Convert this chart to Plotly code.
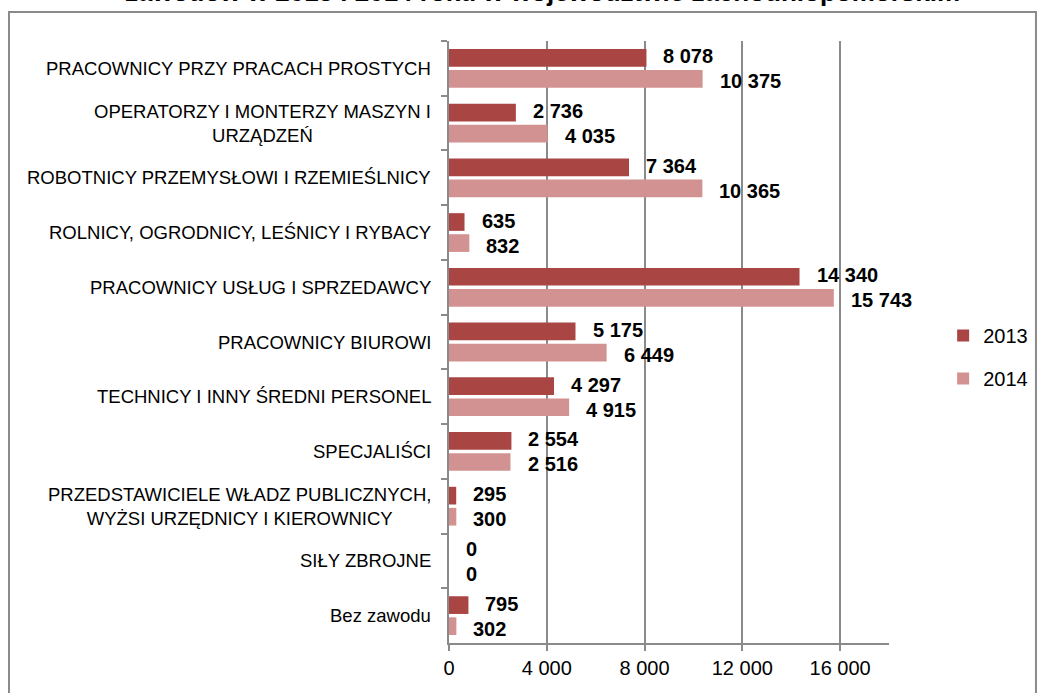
import plotly.graph_objects as go

categories = [
    "PRACOWNICY PRZY PRACACH PROSTYCH",
    "OPERATORZY I MONTERZY MASZYN I<br>URZĄDZEŃ",
    "ROBOTNICY PRZEMYSŁOWI I RZEMIEŚLNICY",
    "ROLNICY, OGRODNICY, LEŚNICY I RYBACY",
    "PRACOWNICY USŁUG I SPRZEDAWCY",
    "PRACOWNICY BIUROWI",
    "TECHNICY I INNY ŚREDNI PERSONEL",
    "SPECJALIŚCI",
    "PRZEDSTAWICIELE WŁADZ PUBLICZNYCH,<br>WYŻSI URZĘDNICY I KIEROWNICY",
    "SIŁY ZBROJNE",
    "Bez zawodu",
]
v2013 = [8078, 2736, 7364, 635, 14340, 5175, 4297, 2554, 295, 0, 795]
v2014 = [10375, 4035, 10365, 832, 15743, 6449, 4915, 2516, 300, 0, 302]
series_names = ["2013", "2014"]
tick_vals = [0, 4000, 8000, 12000, 16000]
title_text = "zawodów w 2013 i 2014 roku w województwie zachodniopomorskim"

FONT = "Liberation Sans, Arial, sans-serif"
C2013 = "#A94644"
C2014 = "#D39292"
GREY = "#8A8A8A"


def fmt(v):
    return f"{v:,}".replace(",", " ")


fig = go.Figure()
for name, vals, col in [(series_names[0], v2013, C2013), (series_names[1], v2014, C2014)]:
    fig.add_trace(go.Bar(
        y=categories, x=vals, orientation="h", name=name,
        marker=dict(color=col, line=dict(width=0)),
        legendgroup=name, hoverinfo="skip",
    ))

annotations = []
for cat, a, b in zip(categories, v2013, v2014):
    annotations.append(dict(x=a, y=cat, xref="x", yref="y", text=fmt(a), showarrow=False,
                            xanchor="left", xshift=15, yshift=12,
                            font=dict(family=FONT, size=20, color="black", weight="bold")))
    annotations.append(dict(x=b, y=cat, xref="x", yref="y", text=fmt(b), showarrow=False,
                            xanchor="left", xshift=15, yshift=-13,
                            font=dict(family=FONT, size=20, color="black", weight="bold")))
    annotations.append(dict(x=0, y=cat, xref="paper", yref="y", text=cat, showarrow=False,
                            xanchor="right", xshift=-16, align="center",
                            font=dict(family=FONT, size=18.5, color="black")))

annotations.append(dict(x=0.2136, y=1.0814, xref="paper", yref="paper", text=title_text,
                        showarrow=False, xanchor="center", yanchor="middle",
                        font=dict(family=FONT, size=26, color="black", weight="bold")))

fig.update_layout(
    width=1041, height=693,
    margin=dict(l=449, r=152, t=41, b=50),
    paper_bgcolor="white", plot_bgcolor="white",
    barmode="group", bargap=0.23, bargroupgap=0.16,
    separators=", ",
    font=dict(family=FONT, color="black"),
    annotations=annotations,
    legend=dict(xref="container", yref="container", x=0.906, y=0.485,
                xanchor="left", yanchor="middle",
                font=dict(family=FONT, size=20, color="black"),
                tracegroupgap=14, bgcolor="rgba(0,0,0,0)"),
    shapes=[dict(type="rect", xref="paper", yref="paper",
                 x0=-1.0, x1=1.334, y0=-0.12, y1=1.048,
                 line=dict(color=GREY, width=2), layer="below")],
    xaxis=dict(range=[0, 18000], tickvals=tick_vals, tickformat=",d",
               showgrid=True, gridcolor=GREY, gridwidth=1.5,
               showline=True, linecolor=GREY, linewidth=2,
               ticks="outside", ticklen=6, tickcolor=GREY, tickwidth=1.5,
               zeroline=False, fixedrange=True,
               tickfont=dict(family=FONT, size=20, color="black")),
    yaxis=dict(type="category", autorange="reversed", showticklabels=False,
               ticks="outside", tickson="boundaries", ticklen=6, tickcolor=GREY, tickwidth=1.5,
               showline=True, linecolor=GREY, linewidth=2, showgrid=False, zeroline=False,
               fixedrange=True),
)

fig.write_html("out.html", config={"displayModeBar": False},
               post_script="document.body.style.margin='0';document.body.style.overflow='hidden';")
